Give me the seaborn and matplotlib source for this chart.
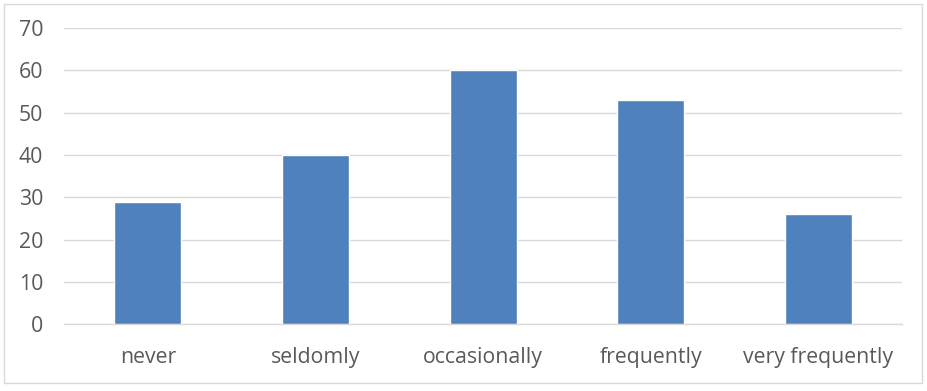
import matplotlib
matplotlib.use("Agg")
import matplotlib.pyplot as plt
import pandas as pd
import seaborn as sns
from matplotlib.patches import Rectangle

# Data
categories = ["never", "seldomly", "occasionally", "frequently", "very frequently"]
values = [29, 40, 60, 53, 26]
y_ticks = [0, 10, 20, 30, 40, 50, 60, 70]

df = pd.DataFrame({"category": categories, "value": values})

sns.set_theme(style="white")
plt.rcParams["font.family"] = ["Open Sans", "DejaVu Sans"]

fig = plt.figure(figsize=(9.28, 3.91), dpi=100)
ax = fig.add_axes([0.069, 0.171, 0.903, 0.757])

sns.barplot(data=df, x="category", y="value", color="#4F81BD", saturation=1,
            width=0.4, ax=ax, zorder=3)

ax.set_ylim(0, 70)
ax.set_yticks(y_ticks)
ax.set_xlim(-0.5, len(categories) - 0.5)
ax.yaxis.grid(True, color="#D9D9D9", linewidth=1, zorder=0)
ax.set_axisbelow(True)
for side in ["top", "right", "left"]:
    ax.spines[side].set_visible(False)
ax.spines["bottom"].set_color("#D9D9D9")
ax.spines["bottom"].set_linewidth(1)

ax.set_xlabel("")
ax.set_ylabel("")
ax.tick_params(axis="both", length=0, labelsize=15.3, labelcolor="#595959")
ax.tick_params(axis="y", pad=15)
ax.tick_params(axis="x", pad=16.5)

# outer chart border
fig.patches.append(Rectangle((4 / 928, 8 / 391), 918 / 928, 379 / 391,
                             transform=fig.transFigure, fill=False,
                             edgecolor="#D9D9D9", linewidth=1))

fig.savefig("out.png", dpi=100)
